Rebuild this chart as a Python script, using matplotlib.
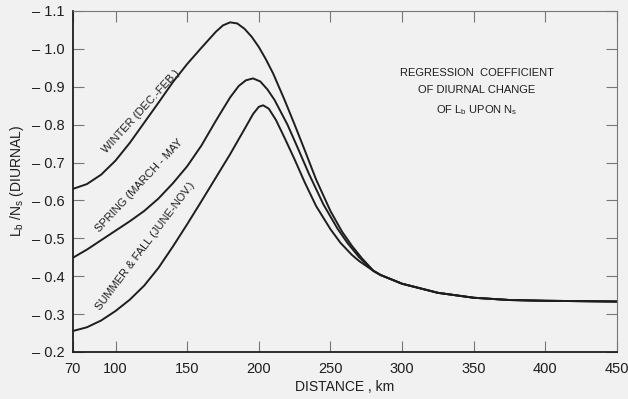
import numpy as np
import matplotlib.pyplot as plt

# values (distance in km, coefficient)
winter_km = [70, 80, 90, 100, 110, 120, 130, 140, 150, 160, 170, 175, 180, 185, 190,
             195, 200, 205, 210, 218, 225, 232, 240, 250, 258, 265, 272]
winter_val = [-0.630, -0.643, -0.668, -0.705, -0.752, -0.805, -0.858, -0.912, -0.960,
              -1.003, -1.045, -1.062, -1.070, -1.067, -1.053, -1.032, -1.005, -0.972,
              -0.935, -0.865, -0.800, -0.733, -0.655, -0.572, -0.518, -0.480, -0.447]

spring_km = [70, 80, 90, 100, 110, 120, 130, 140, 150, 160, 170, 180, 186, 191, 196,
             201, 206, 211, 220, 227, 235, 245, 255, 262, 270]
spring_val = [-0.448, -0.470, -0.495, -0.520, -0.545, -0.572, -0.605, -0.645, -0.690,
              -0.745, -0.810, -0.872, -0.902, -0.917, -0.922, -0.914, -0.893, -0.865,
              -0.800, -0.740, -0.670, -0.590, -0.525, -0.487, -0.450]

summer_km = [70, 80, 90, 100, 110, 120, 130, 140, 150, 160, 170, 180, 190, 196, 200,
             203, 207, 212, 218, 225, 232, 240, 250, 257, 265, 270]
summer_val = [-0.255, -0.265, -0.283, -0.308, -0.338, -0.375, -0.422, -0.478, -0.537,
              -0.598, -0.660, -0.722, -0.788, -0.828, -0.847, -0.851, -0.842, -0.812,
              -0.765, -0.708, -0.648, -0.585, -0.524, -0.488, -0.456, -0.440]

# all three seasons share the same tail
tail_km = [280, 285, 300, 325, 350, 375, 400, 425, 450]
tail_val = [-0.414, -0.403, -0.380, -0.356, -0.343, -0.337, -0.335, -0.334, -0.333]

x_ticks = [70, 100, 150, 200, 250, 300, 350, 400, 450]
y_ticks = [-0.2, -0.3, -0.4, -0.5, -0.6, -0.7, -0.8, -0.9, -1.0, -1.1]

plt.rcParams['font.family'] = ['Liberation Sans', 'DejaVu Sans']
plt.rcParams['mathtext.default'] = 'regular'

bg = '#f1f1f1'
ink = '#1e1e1e'

fig = plt.figure(figsize=(6.28, 3.99), dpi=100, facecolor=bg)
ax = fig.add_axes([0.1155, 0.118, 0.867, 0.8545])
ax.set_facecolor(bg)

for km, val in [(winter_km, winter_val), (spring_km, spring_val), (summer_km, summer_val)]:
    ax.plot(km + tail_km, val + tail_val, color=ink, lw=1.4)

ax.set_xlim(70, 450)
ax.set_ylim(-0.2, -1.1)
ax.set_xticks(x_ticks)
ax.set_xticklabels([str(t) for t in x_ticks])
ax.set_yticks(y_ticks)
ax.set_yticklabels(['\u2013 %.1f' % abs(t) for t in y_ticks])

ax.tick_params(direction='in', length=8, width=0.8, color='#777777',
               top=True, right=True, labelsize=10.5, labelcolor=ink)
ax.tick_params(axis='x', pad=7)
ax.tick_params(axis='y', pad=6)
for s in ax.spines.values():
    s.set_linewidth(1.3)
    s.set_color(ink)
ax.spines['top'].set_linewidth(0.8)
ax.spines['top'].set_color('#777777')
ax.spines['right'].set_linewidth(0.8)
ax.spines['right'].set_color('#777777')

ax.set_xlabel('DISTANCE , km', fontsize=10, color=ink, labelpad=3)
ax.set_ylabel('L$_b$ /N$_s$ (DIURNAL)', fontsize=10, color=ink, labelpad=4)

# season labels along the curves
ax.text(118, -0.836, 'WINTER (DEC.-FEB.)', rotation=47.5, fontsize=8,
        ha='center', va='center', rotation_mode='anchor', color=ink)
ax.text(116.5, -0.640, 'SPRING (MARCH - MAY', rotation=47, fontsize=8,
        ha='center', va='center', rotation_mode='anchor', color=ink)
ax.text(121, -0.478, 'SUMMER & FALL (JUNE-NOV.)', rotation=53, fontsize=8,
        ha='center', va='center', rotation_mode='anchor', color=ink)

ax.text(352, -0.885, 'REGRESSION  COEFFICIENT\nOF DIURNAL CHANGE\nOF L$_b$ UPON N$_s$',
        ha='center', va='center', fontsize=8, linespacing=1.85, color=ink)

fig.savefig('out.png', dpi=100, facecolor=bg)
